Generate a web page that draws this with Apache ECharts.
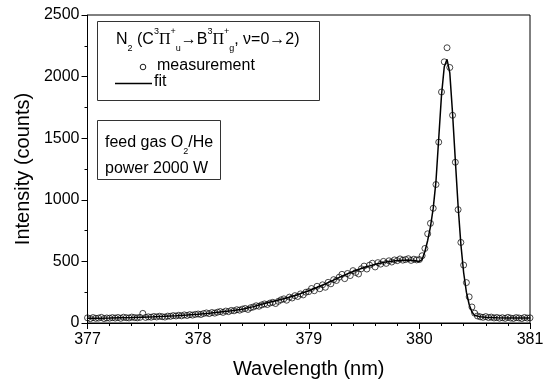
<!DOCTYPE html>
<html>
<head>
<meta charset="utf-8">
<script src="https://cdn.jsdelivr.net/npm/echarts@6/dist/echarts.min.js"></script>
<style>
  html, body { margin: 0; padding: 0; background: #fff; }
  #chart { width: 547px; height: 385px; }
</style>
</head>
<body>
<div id="chart"></div>
<script>
  // measured spectrum, sampled every 0.025 nm starting at 377 nm
  const wlStart = 377.0
  const wlStep = 0.025
  const measured = [
    42, 35, 44, 38, 40, 46, 36, 41, 39, 44,
    40, 45, 38, 47, 43, 41, 48, 44, 42, 46,
    78, 45, 50, 47, 53, 49, 55, 51, 48, 56,
    54, 60, 57, 63, 58, 66, 61, 68, 64, 70,
    73, 69, 77, 82, 76, 85, 80, 88, 93, 86,
    97, 92, 102, 99, 108, 104, 113, 118, 110, 124,
    130, 140, 136, 147, 155, 150, 162, 168, 158, 176,
    188, 196, 185, 210, 203, 222, 215, 236, 228, 250,
    255, 280, 262, 298, 278, 310, 290, 330, 318, 352,
    345, 372, 395, 360, 402, 385, 425, 410, 398, 440,
    462, 438, 470, 485, 455, 490, 478, 500, 484, 505,
    495, 512, 506, 520, 510, 515, 522, 508, 518, 512,
    515, 546, 605, 724, 809, 931, 1124, 1468, 1875, 2120,
    2234, 2074, 1686, 1305, 920, 654, 470, 328, 212, 130,
    80, 57, 50, 46, 52, 44, 48, 41, 45, 39,
    43, 38, 46, 40, 37, 44, 41, 36, 45, 40,
    42
  ]

  // fitted curve
  const fitWl = [
    377.0, 377.1, 377.2, 377.3, 377.4, 377.5, 377.6, 377.7, 377.8, 377.9,
    378.0, 378.1, 378.2, 378.3, 378.4, 378.5, 378.6, 378.7, 378.8, 378.9,
    379.0, 379.1, 379.2, 379.3, 379.4, 379.5, 379.6, 379.7, 379.8, 379.9,
    379.95, 380.0, 380.025, 380.05, 380.075, 380.1, 380.125, 380.15, 380.175, 380.2,
    380.225, 380.25, 380.275, 380.3, 380.325, 380.35, 380.375, 380.4, 380.425, 380.45,
    380.475, 380.5, 380.55, 380.6, 380.7, 380.8, 380.9, 381.0
  ]
  const fitI = [
    38, 39, 40, 42, 44, 47, 50, 54, 59, 65,
    72, 80, 90, 100, 112, 133, 158, 180, 203, 230,
    262, 298, 338, 380, 418, 450, 476, 496, 508, 512,
    508, 500, 515, 580, 670, 780, 930, 1150, 1500, 1850,
    2080, 2140, 2030, 1700, 1320, 950, 640, 410, 250, 150,
    90, 62, 50, 46, 43, 41, 40, 40
  ]

  const xTicks = [377, 378, 379, 380, 381]
  const yTicks = [0, 500, 1000, 1500, 2000, 2500]

  const font = 'Liberation Sans, Arial, sans-serif'

  let measData = []
  for (let i = 0; i < measured.length; i++) {
    measData.push([wlStart + i * wlStep, measured[i]])
  }
  let fitData = []
  for (let i = 0; i < fitWl.length; i++) {
    fitData.push([fitWl[i], fitI[i]])
  }

  let myChart = echarts.init(document.getElementById('chart'))
  myChart.setOption({
    animation: false,
    textStyle: { fontFamily: font },
    grid: {
      left: 87.5,
      right: 17,
      top: 15,
      bottom: 62,
      show: true,
      borderColor: '#000',
      borderWidth: 1
    },
    xAxis: {
      type: 'value',
      min: xTicks[0],
      max: xTicks[xTicks.length - 1],
      interval: 1,
      name: 'Wavelength (nm)',
      nameLocation: 'middle',
      nameGap: 36,
      nameTextStyle: { fontSize: 20, color: '#000', fontFamily: font },
      axisLine: { show: true, lineStyle: { color: '#000', width: 1 } },
      axisTick: { show: true, inside: false, length: 6, lineStyle: { color: '#000' } },
      minorTick: { show: true, splitNumber: 5, length: 3, lineStyle: { color: '#000' } },
      axisLabel: { fontSize: 16, color: '#000', margin: 9, fontFamily: font, formatter: v => String(v) },
      splitLine: { show: false }
    },
    yAxis: {
      type: 'value',
      min: yTicks[0],
      max: yTicks[yTicks.length - 1],
      interval: 500,
      name: 'Intensity (counts)',
      nameLocation: 'middle',
      nameGap: 51,
      nameTextStyle: { fontSize: 20, color: '#000', fontFamily: font },
      axisLine: { show: true, lineStyle: { color: '#000', width: 1 } },
      axisTick: { show: true, inside: false, length: 6, lineStyle: { color: '#000' } },
      minorTick: { show: true, splitNumber: 2, length: 3, lineStyle: { color: '#000' } },
      axisLabel: { fontSize: 16, color: '#000', margin: 8, fontFamily: font, formatter: v => String(v) },
      splitLine: { show: false }
    },
    series: [
      {
        name: 'measurement',
        type: 'scatter',
        data: measData,
        symbol: 'circle',
        symbolSize: 6,
        itemStyle: { color: 'rgba(0,0,0,0)', borderColor: '#000', borderWidth: 0.9 },
        z: 2
      },
      {
        name: 'fit',
        type: 'line',
        data: fitData,
        symbol: 'none',
        showSymbol: false,
        lineStyle: { color: '#000', width: 1.5 },
        z: 3
      }
    ],
    graphic: [
      // legend box
      {
        type: 'rect',
        shape: { x: 97.5, y: 21.5, width: 222, height: 79 },
        style: { fill: '#fff', stroke: '#333', lineWidth: 1 },
        z: 10
      },
      {
        type: 'text',
        x: 116,
        y: 40,
        style: {
          text: '{m|N}{sub|2}{m| (C}{sup|3}{pi|Π}{sup|+}{sub|u}{m|→B}{sup|3}{pi|Π}{sup|+}{sub|g}{m|, ν=0→2)}',
          verticalAlign: 'middle',
          rich: {
            m: { fontSize: 16, fontFamily: font, lineHeight: 26, fill: '#000' },
            pi: { fontSize: 16, fontFamily: 'Liberation Serif, DejaVu Serif, serif', lineHeight: 26, fill: '#000' },
            sup: { fontSize: 9, fontFamily: font, lineHeight: 12, verticalAlign: 'top', fill: '#000' },
            sub: { fontSize: 9, fontFamily: font, lineHeight: 17, verticalAlign: 'bottom', fill: '#000' }
          }
        },
        z: 11
      },
      {
        type: 'circle',
        shape: { cx: 143, cy: 67, r: 2.8 },
        style: { fill: 'none', stroke: '#000', lineWidth: 0.9 },
        z: 11
      },
      {
        type: 'text',
        x: 157,
        y: 66,
        style: { text: 'measurement', fontSize: 16, fontFamily: font, fill: '#000', verticalAlign: 'middle' },
        z: 11
      },
      {
        type: 'line',
        shape: { x1: 115, y1: 83.5, x2: 152, y2: 83.5 },
        style: { stroke: '#000', lineWidth: 1.5 },
        z: 11
      },
      {
        type: 'text',
        x: 154,
        y: 82,
        style: { text: 'fit', fontSize: 16, fontFamily: font, fill: '#000', verticalAlign: 'middle' },
        z: 11
      },
      // conditions box
      {
        type: 'rect',
        shape: { x: 97.5, y: 120.5, width: 123, height: 59 },
        style: { fill: '#fff', stroke: '#333', lineWidth: 1 },
        z: 10
      },
      {
        type: 'text',
        x: 105,
        y: 143,
        style: {
          text: '{m|feed gas O}{sub|2}{m|/He}',
          verticalAlign: 'middle',
          rich: {
            m: { fontSize: 16, fontFamily: font, lineHeight: 26, fill: '#000' },
            sub: { fontSize: 9, fontFamily: font, lineHeight: 17, verticalAlign: 'bottom', fill: '#000' }
          }
        },
        z: 11
      },
      {
        type: 'text',
        x: 105,
        y: 169,
        style: { text: 'power 2000 W', fontSize: 16, fontFamily: font, fill: '#000', verticalAlign: 'middle' },
        z: 11
      }
    ]
  })
</script>
</body>
</html>
